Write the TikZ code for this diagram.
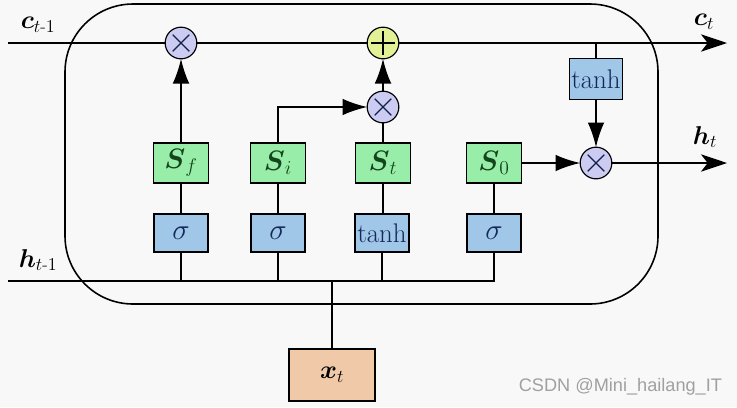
\documentclass[tikz,border=0pt]{standalone}
\usepackage{fix-cm}
\usepackage{amsmath}
\usepackage{fontspec}
\newfontfamily\wmfont{Liberation Sans}
\usetikzlibrary{arrows.meta}
\definecolor{bgc}{RGB}{248,248,248}
\definecolor{sgreen}{RGB}{152,238,168}
\definecolor{sblue}{RGB}{160,198,232}
\definecolor{slav}{RGB}{204,204,242}
\definecolor{syel}{RGB}{226,240,150}
\definecolor{speach}{RGB}{240,202,168}
\definecolor{gtext}{RGB}{20,70,30}
\definecolor{btext}{RGB}{20,40,90}
\definecolor{wm}{RGB}{160,160,160}
\begin{document}
\begin{tikzpicture}[x=0.03cm,y=-0.03cm,
  every node/.style={inner sep=0pt, outer sep=0pt},
  thick line/.style={line width=1.35pt},
  thin line/.style={line width=1pt},
  inarrow/.style={-{Latex[length=0.74cm,width=0.5cm]}},
  outarrow/.style={-{Stealth[length=0.78cm,width=0.52cm,inset=0.2cm]}},
  gbox/.style={draw, line width=1pt, fill=sgreen, minimum width=1.65cm, minimum height=1.2cm, text=gtext, font=\fontsize{24}{26}\selectfont},
  bbox/.style={draw, line width=1pt, fill=sblue, minimum width=1.62cm, minimum height=1.14cm, text=btext, font=\fontsize{25}{27}\selectfont},
  tbox/.style={draw, line width=1pt, fill=sblue, text=btext, font=\fontsize{23}{25}\selectfont},
  mulop/.style={draw, line width=1pt, circle, fill=slav, minimum size=0.95cm},
  addop/.style={draw, line width=1pt, circle, fill=syel, minimum size=0.95cm},
  lbl/.style={font=\fontsize{22}{24}\selectfont}
]
\useasboundingbox (0,0) rectangle (737,407);
\fill[bgc] (0,0) rectangle (737,407);

% cell border
\draw[thick line, rounded corners=2.04cm] (65,4) rectangle (658,304);

% operators
\node[mulop] (m1) at (181,43) {};
\node[addop] (p) at (383,43) {};
\node[mulop] (m2) at (383,107) {};
\node[mulop] (m3) at (596,163) {};
\foreach \n in {m1,m2,m3}{
  \draw[line width=1pt, btext!80!black] ([shift={(-0.25cm,-0.25cm)}]\n.center) -- ([shift={(0.25cm,0.25cm)}]\n.center)
    ([shift={(-0.25cm,0.25cm)}]\n.center) -- ([shift={(0.25cm,-0.25cm)}]\n.center);
}
\draw[line width=1pt] ([yshift=-0.35cm]p.center) -- ([yshift=0.35cm]p.center)
  ([xshift=-0.35cm]p.center) -- ([xshift=0.35cm]p.center);

% gate boxes
\node[gbox] (sf) at (181,163) {$\boldsymbol{S}_f$};
\node[gbox] (si) at (278,163) {$\boldsymbol{S}_i$};
\node[gbox] (st) at (383,163) {$\boldsymbol{S}_t$};
\node[gbox] (so) at (494,163) {$\boldsymbol{S}_0$};
\node[bbox] (g1) at (181,233) {$\sigma$};
\node[bbox] (g2) at (278,233) {$\sigma$};
\node[bbox, font=\fontsize{23}{25}\selectfont] (g3) at (382,233) {$\tanh$};
\node[bbox] (g4) at (494,233) {$\sigma$};
\node[tbox, minimum width=1.59cm, minimum height=1.23cm] (tc) at (596,79) {$\tanh$};
\node[draw, line width=1.1pt, fill=speach, minimum width=2.58cm, minimum height=1.56cm, font=\fontsize{22}{24}\selectfont] (x) at (332,375) {$\boldsymbol{x}_t$};

% coordinates
\coordinate (cin) at (8,43);
\coordinate (cout) at (727,43);
\coordinate (hin) at (8,281);
\coordinate (hout) at (727,163);
\coordinate (hj) at (332,281);
\coordinate (ctap) at (596,43);

% labels
\node[lbl] (lc0) at (38,25) {$\boldsymbol{c}_{t\text{-}1}$};
\node[lbl] (lc1) at (704,22) {$\boldsymbol{c}_t$};
\node[lbl] (lh0) at (38,260) {$\boldsymbol{h}_{t\text{-}1}$};
\node[lbl] (lh1) at (705,137) {$\boldsymbol{h}_t$};

% cell state line
\draw[thick line] (cin) -- (m1.west);
\draw[thick line] (m1.east) -- (p.west);
\draw[thick line, outarrow] (p.east) -- (cout);

% hidden input bus
\draw[thin line] (hin) -- (g4.south |- hin) -- (g4.south);
\draw[thin line] (g1.south) -- (g1.south |- hin);
\draw[thin line] (g2.south) -- (g2.south |- hin);
\draw[thin line] (g3.south) -- (g3.south |- hin);
\draw[thin line] (x.north) -- (hj);

% sigma to S
\draw[thin line] (g1) -- (sf);
\draw[thin line] (g2) -- (si);
\draw[thin line] (g3.north) -- (g3.north -| st.south) -- (st.south);
\draw[thin line] (g4) -- (so);

% gates to operators
\draw[thick line, inarrow] (sf.north) -- (m1.south);
\draw[thick line, inarrow] (si.north) |- (m2.west);
\draw[thin line] (st.north) -- (m2.south);
\draw[thick line, inarrow] (m2.north) -- (p.south);
\draw[thin line] (ctap) -- (tc.north);
\draw[thick line, inarrow] (tc.south) -- (m3.north);
\draw[thick line, inarrow] (so.east) -- (m3.west);
\draw[thick line, outarrow] (m3.east) -- (hout);

% watermark
\node[text=wm, font=\wmfont\fontsize{15.5}{17}\selectfont, anchor=east] (wmk) at (722,387) {CSDN @Mini\_hailang\_IT};
\end{tikzpicture}
\end{document}
